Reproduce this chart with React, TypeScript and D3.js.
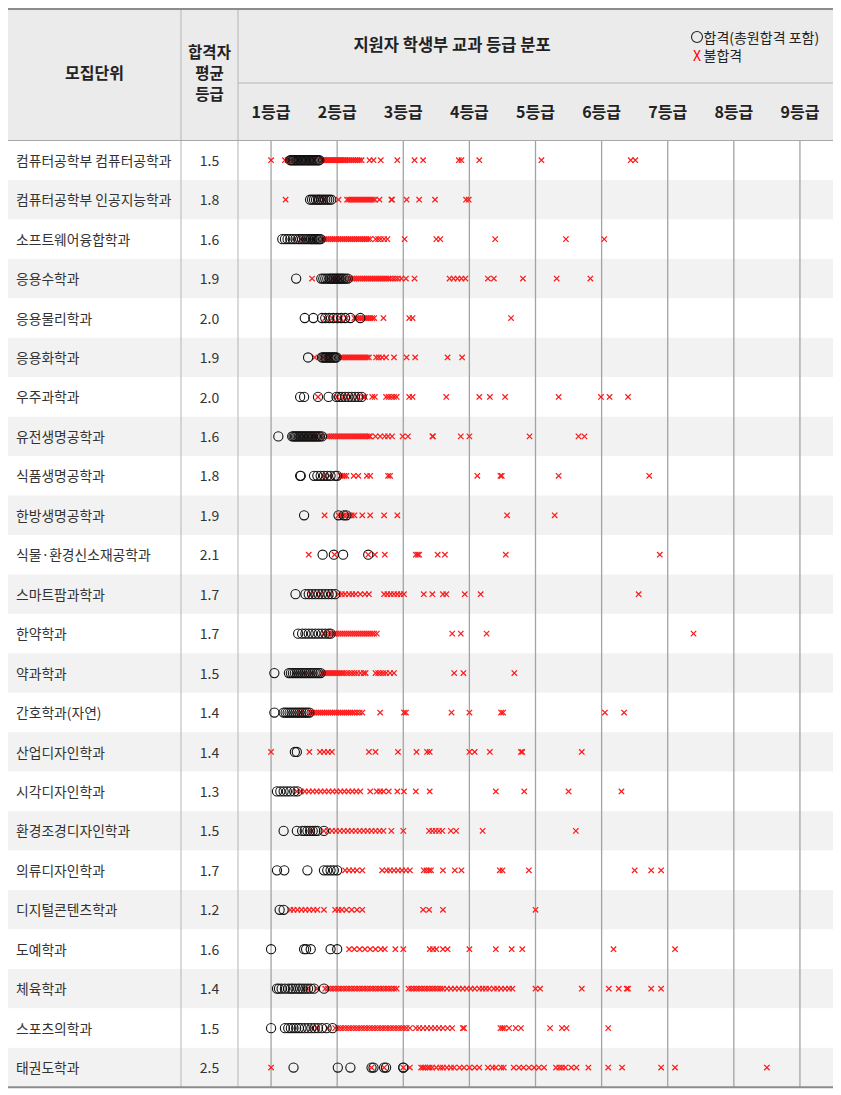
import React from 'react';
import * as d3 from 'd3';

// 모집단위
const units = [
  '컴퓨터공학부 컴퓨터공학과', '컴퓨터공학부 인공지능학과', '소프트웨어융합학과', '응용수학과',
  '응용물리학과', '응용화학과', '우주과학과', '유전생명공학과', '식품생명공학과', '한방생명공학과',
  '식물·환경신소재공학과', '스마트팜과학과', '한약학과', '약과학과', '간호학과(자연)', '산업디자인학과',
  '시각디자인학과', '환경조경디자인학과', '의류디자인학과', '디지털콘텐츠학과', '도예학과', '체육학과',
  '스포츠의학과', '태권도학과'
];

// 합격자 평균 등급
const avgGrades = [1.5, 1.8, 1.6, 1.9, 2.0, 1.9, 2.0, 1.6, 1.8, 1.9, 2.1, 1.7, 1.7, 1.5, 1.4, 1.4, 1.3, 1.5, 1.7, 1.2, 1.6, 1.4, 1.5, 2.5];

const gradeTicks = [1, 2, 3, 4, 5, 6, 7, 8, 9];
const gradeLabels = ['1등급', '2등급', '3등급', '4등급', '5등급', '6등급', '7등급', '8등급', '9등급'];

// 합격 (충원합격 포함)
const passedByUnit: number[][] = [
  [1.29, 1.31, 1.33, 1.35, 1.37, 1.39, 1.41, 1.43, 1.45, 1.47, 1.49, 1.51, 1.53, 1.55, 1.57, 1.59, 1.61, 1.63, 1.65, 1.67, 1.69, 1.71, 1.73],
  [1.59, 1.62, 1.65, 1.68, 1.71, 1.73, 1.76, 1.79, 1.82, 1.85, 1.88, 1.91],
  [1.17, 1.21, 1.25, 1.29, 1.33, 1.37, 1.41, 1.44, 1.47, 1.5, 1.53, 1.56, 1.59, 1.61, 1.63, 1.65, 1.67, 1.69, 1.71, 1.73, 1.75],
  [1.38, 1.76, 1.79, 1.82, 1.85, 1.88, 1.9, 1.92, 1.94, 1.96, 1.98, 2.0, 2.02, 2.04, 2.06, 2.08, 2.1, 2.13, 2.16],
  [1.51, 1.64, 1.77, 1.82, 1.88, 1.94, 2.0, 2.06, 2.12, 2.2, 2.35],
  [1.56, 1.77, 1.79, 1.81, 1.83, 1.85, 1.87, 1.89, 1.91, 1.93, 1.95, 1.97, 1.99],
  [1.44, 1.5, 1.71, 1.87, 1.99, 2.03, 2.07, 2.12, 2.17, 2.22, 2.27, 2.32, 2.37],
  [1.11, 1.32, 1.34, 1.36, 1.38, 1.4, 1.42, 1.44, 1.46, 1.48, 1.5, 1.52, 1.54, 1.56, 1.58, 1.6, 1.62, 1.64, 1.66, 1.68, 1.7, 1.72, 1.74, 1.77],
  [1.44, 1.45, 1.65, 1.7, 1.75, 1.8, 1.85, 1.9, 1.97, 2.0],
  [1.5, 2.02, 2.1, 2.14],
  [1.78, 1.95, 2.09, 2.47],
  [1.37, 1.52, 1.57, 1.62, 1.67, 1.72, 1.77, 1.82, 1.87, 1.92, 1.97],
  [1.41, 1.47, 1.52, 1.57, 1.62, 1.67, 1.72, 1.77, 1.82, 1.87, 1.9],
  [1.05, 1.27, 1.3, 1.33, 1.36, 1.39, 1.42, 1.45, 1.48, 1.51, 1.54, 1.57, 1.6, 1.63, 1.66, 1.69, 1.72, 1.75],
  [1.05, 1.19, 1.22, 1.25, 1.28, 1.31, 1.34, 1.37, 1.4, 1.43, 1.46, 1.49, 1.52, 1.55, 1.58],
  [1.36, 1.39],
  [1.09, 1.14, 1.19, 1.24, 1.29, 1.35, 1.4],
  [1.19, 1.39, 1.47, 1.51, 1.55, 1.59, 1.63, 1.67, 1.7, 1.8],
  [1.09, 1.2, 1.55, 1.8, 1.85, 1.9, 1.95, 2.0],
  [1.13, 1.19],
  [1.0, 1.5, 1.53, 1.6, 1.9, 2.0],
  [1.09, 1.12, 1.16, 1.21, 1.26, 1.3, 1.33, 1.37, 1.41, 1.44, 1.48, 1.52, 1.56, 1.6, 1.65, 1.8],
  [1.0, 1.21, 1.26, 1.3, 1.34, 1.38, 1.42, 1.46, 1.51, 1.56, 1.61, 1.66, 1.71, 1.77, 1.84, 1.93],
  [1.34, 2.01, 2.2, 2.52, 2.55, 2.71, 2.74, 3.0, 3.0]
];

// 불합격
const failedByUnit: number[][] = [
  [1.0, 1.21, 1.25, 1.3, 1.42, 1.55, 1.66, 1.77, 1.79, 1.81, 1.83, 1.85, 1.87, 1.89, 1.91, 1.93, 1.95, 1.97, 1.99, 2.01, 2.03, 2.05, 2.07, 2.09, 2.11, 2.13, 2.16, 2.19, 2.22, 2.25, 2.28, 2.31, 2.34, 2.37, 2.49, 2.55, 2.66, 2.91, 3.17, 3.3, 3.84, 3.88, 4.15, 5.09, 6.44, 6.51],
  [1.22, 1.72, 1.8, 2.02, 2.15, 2.18, 2.21, 2.24, 2.27, 2.3, 2.33, 2.36, 2.39, 2.42, 2.45, 2.48, 2.51, 2.54, 2.57, 2.64, 2.82, 2.83, 3.05, 3.24, 3.48, 3.95, 3.99],
  [1.45, 1.62, 1.78, 1.81, 1.84, 1.87, 1.9, 1.93, 1.96, 1.99, 2.02, 2.05, 2.08, 2.11, 2.14, 2.17, 2.2, 2.23, 2.26, 2.29, 2.32, 2.35, 2.38, 2.41, 2.44, 2.47, 2.5, 2.58, 2.62, 2.66, 2.71, 2.76, 3.02, 3.5, 3.56, 4.39, 5.46, 6.04],
  [1.62, 1.95, 2.05, 2.2, 2.23, 2.26, 2.29, 2.32, 2.35, 2.38, 2.41, 2.44, 2.47, 2.5, 2.53, 2.56, 2.59, 2.62, 2.65, 2.68, 2.71, 2.74, 2.77, 2.8, 2.84, 2.88, 2.92, 2.97, 3.04, 3.17, 3.7, 3.76, 3.82, 3.88, 3.94, 4.28, 4.37, 4.81, 5.32, 5.83],
  [1.82, 1.93, 2.05, 2.14, 2.26, 2.29, 2.32, 2.35, 2.38, 2.41, 2.44, 2.47, 2.5, 2.53, 2.56, 2.7, 3.09, 3.14, 4.63],
  [1.66, 1.8, 1.9, 2.06, 2.09, 2.12, 2.15, 2.18, 2.21, 2.24, 2.27, 2.3, 2.33, 2.36, 2.39, 2.42, 2.45, 2.48, 2.59, 2.63, 2.68, 2.74, 2.86, 3.05, 3.18, 3.67, 3.89],
  [1.71, 2.0, 2.1, 2.2, 2.3, 2.39, 2.42, 2.53, 2.57, 2.74, 2.78, 2.82, 2.86, 2.9, 3.09, 3.14, 3.65, 4.15, 4.31, 4.54, 5.35, 5.99, 6.12, 6.4],
  [1.5, 1.65, 1.76, 1.85, 1.88, 1.91, 1.94, 1.97, 2.0, 2.03, 2.06, 2.09, 2.12, 2.15, 2.18, 2.21, 2.24, 2.27, 2.3, 2.33, 2.36, 2.39, 2.42, 2.45, 2.48, 2.5, 2.58, 2.65, 2.72, 2.77, 2.83, 2.99, 3.07, 3.44, 3.45, 3.87, 4.0, 4.91, 5.65, 5.74],
  [1.8, 1.88, 2.05, 2.08, 2.11, 2.14, 2.25, 2.32, 2.45, 2.5, 2.77, 2.8, 4.12, 4.47, 4.49, 5.35, 6.72],
  [1.81, 2.02, 2.06, 2.1, 2.14, 2.18, 2.22, 2.26, 2.38, 2.5, 2.71, 2.91, 4.57, 5.29],
  [1.57, 1.96, 2.47, 2.57, 2.72, 3.19, 3.22, 3.24, 3.52, 3.63, 4.55, 6.88],
  [1.6, 1.75, 1.9, 2.02, 2.07, 2.12, 2.18, 2.23, 2.28, 2.35, 2.42, 2.48, 2.71, 2.76, 2.81, 2.86, 2.91, 2.96, 3.01, 3.31, 3.44, 3.6, 3.65, 3.93, 4.17, 6.56],
  [1.8, 1.87, 1.9, 1.93, 1.96, 1.99, 2.02, 2.05, 2.08, 2.11, 2.14, 2.17, 2.2, 2.23, 2.26, 2.29, 2.32, 2.35, 2.38, 2.41, 2.44, 2.47, 2.5, 2.53, 2.56, 2.6, 3.74, 3.87, 4.26, 7.39],
  [1.5, 1.62, 1.77, 1.8, 1.83, 1.86, 1.89, 1.92, 1.95, 1.98, 2.01, 2.04, 2.07, 2.1, 2.14, 2.18, 2.22, 2.26, 2.3, 2.35, 2.4, 2.43, 2.58, 2.62, 2.66, 2.7, 2.74, 2.8, 2.86, 3.77, 3.91, 4.68],
  [1.45, 1.6, 1.63, 1.66, 1.69, 1.72, 1.75, 1.78, 1.81, 1.84, 1.87, 1.9, 1.93, 1.96, 1.99, 2.02, 2.05, 2.08, 2.11, 2.14, 2.17, 2.2, 2.23, 2.26, 2.3, 2.34, 2.38, 2.65, 3.01, 3.04, 3.73, 4.0, 4.48, 4.51, 6.05, 6.34],
  [1.0, 1.58, 1.74, 1.8, 1.86, 1.92, 2.48, 2.58, 2.92, 3.2, 3.36, 3.4, 4.0, 4.08, 4.31, 4.78, 4.8, 5.7],
  [1.39, 1.45, 1.51, 1.57, 1.63, 1.69, 1.75, 1.81, 1.87, 1.93, 1.99, 2.05, 2.11, 2.17, 2.23, 2.29, 2.35, 2.5, 2.6, 2.65, 2.7, 2.78, 2.91, 3.01, 3.19, 3.4, 4.4, 4.83, 5.5, 6.3],
  [1.62, 1.8, 1.86, 1.92, 1.98, 2.04, 2.1, 2.16, 2.22, 2.28, 2.34, 2.4, 2.46, 2.52, 2.58, 2.64, 2.7, 2.82, 3.0, 3.39, 3.44, 3.49, 3.54, 3.59, 3.72, 3.8, 4.2, 5.61],
  [2.12, 2.18, 2.24, 2.3, 2.38, 2.68, 2.75, 2.8, 2.86, 2.92, 2.98, 3.04, 3.1, 3.31, 3.35, 3.39, 3.42, 3.6, 3.78, 3.88, 4.46, 4.5, 4.9, 6.5, 6.75, 6.9],
  [1.29, 1.34, 1.4, 1.46, 1.52, 1.58, 1.64, 1.7, 1.8, 1.97, 2.02, 2.07, 2.14, 2.22, 2.3, 2.38, 3.3, 3.39, 3.6, 5.0],
  [2.18, 2.26, 2.34, 2.42, 2.5, 2.58, 2.66, 2.72, 2.88, 3.0, 3.4, 3.45, 3.5, 3.6, 3.67, 4.0, 4.4, 4.64, 4.8, 6.18, 7.11],
  [1.55, 1.7, 1.82, 1.86, 1.9, 1.94, 1.98, 2.02, 2.06, 2.1, 2.14, 2.18, 2.22, 2.26, 2.3, 2.34, 2.38, 2.42, 2.46, 2.5, 2.54, 2.58, 2.62, 2.66, 2.7, 2.74, 2.78, 2.82, 2.86, 2.9, 3.08, 3.12, 3.16, 3.2, 3.24, 3.28, 3.32, 3.36, 3.4, 3.44, 3.48, 3.52, 3.56, 3.6, 3.66, 3.72, 3.78, 3.84, 3.9, 3.96, 4.02, 4.08, 4.15, 4.2, 4.25, 4.3, 4.37, 4.42, 4.48, 4.54, 4.6, 4.65, 5.0, 5.07, 5.7, 6.11, 6.26, 6.38, 6.4, 6.75, 6.9],
  [1.62, 1.7, 1.86, 1.97, 2.01, 2.05, 2.09, 2.13, 2.17, 2.21, 2.25, 2.29, 2.33, 2.37, 2.41, 2.45, 2.49, 2.53, 2.57, 2.61, 2.65, 2.69, 2.73, 2.77, 2.81, 2.85, 2.89, 2.93, 2.97, 3.01, 3.05, 3.1, 3.19, 3.24, 3.3, 3.36, 3.42, 3.48, 3.54, 3.6, 3.67, 3.74, 3.9, 3.92, 4.47, 4.5, 4.53, 4.6, 4.7, 4.78, 5.22, 5.4, 5.47, 6.1],
  [1.0, 2.52, 2.71, 3.0, 3.1, 3.27, 3.3, 3.33, 3.37, 3.4, 3.44, 3.5, 3.56, 3.6, 3.66, 3.72, 3.77, 3.85, 3.92, 4.0, 4.08, 4.15, 4.28, 4.35, 4.4, 4.48, 4.52, 4.67, 4.75, 4.82, 4.9, 4.98, 5.05, 5.13, 5.31, 5.36, 5.4, 5.45, 5.54, 5.62, 5.8, 6.1, 6.31, 6.9, 7.11, 8.5]
];

const W = 841;
const H = 1095;
const tableLeft = 8;
const tableRight = 833;
const col1Right = 181;
const col2Right = 238;
const headerTop = 9;
const headerMid = 83;
const headerBottom = 140.5;
const rowH = 39.45;
const FONT = '"Noto Sans CJK KR", "Noto Sans", sans-serif';

const xPath = 'M-2.7,-2.7L2.7,2.7M-2.7,2.7L2.7,-2.7';

export default function App() {
  const x = d3.scaleLinear().domain([0.5, 9.5]).range([col2Right, tableRight]);
  const y = d3.scaleBand<number>()
    .domain(d3.range(units.length))
    .range([headerBottom, headerBottom + rowH * units.length]);
  const tableBottom = headerBottom + rowH * units.length;
  const col1Mid = (tableLeft + col1Right) / 2;
  const col2Mid = (col1Right + col2Right) / 2;
  const dy = 1.8; // CJK glyph centring

  return (
    <svg width={W} height={H} style={{ position: 'absolute', left: 0, top: 0, fontFamily: FONT }}>
      <rect width={W} height={H} fill="#fff" />

      {/* header background */}
      <rect x={tableLeft} y={headerTop} width={tableRight - tableLeft} height={headerBottom - headerTop} fill="#ebebeb" />

      {/* row backgrounds */}
      {units.map((u, i) => (
        <rect key={'bg' + i} x={tableLeft} y={y(i)!} width={tableRight - tableLeft} height={y.bandwidth()}
          fill={i % 2 === 1 ? '#f1f2f1' : '#ffffff'} />
      ))}

      {/* grade grid lines */}
      {gradeTicks.map(g => (
        <line key={'g' + g} x1={x(g)} x2={x(g)} y1={headerBottom} y2={tableBottom} stroke="#a3a3a3" strokeWidth={1.3} />
      ))}

      {/* column separators */}
      <line x1={col1Right} x2={col1Right} y1={headerTop} y2={tableBottom} stroke="#b5b5b5" strokeWidth={1} />
      <line x1={col2Right} x2={col2Right} y1={headerTop} y2={tableBottom} stroke="#b5b5b5" strokeWidth={1} />
      <line x1={col2Right} x2={tableRight} y1={headerMid} y2={headerMid} stroke="#b5b5b5" strokeWidth={1} />
      <line x1={tableLeft} x2={tableRight} y1={headerBottom} y2={headerBottom} stroke="#a8a8a8" strokeWidth={1.2} />
      <line x1={tableLeft} x2={tableRight} y1={headerTop} y2={headerTop} stroke="#8c8c8c" strokeWidth={2} />
      <line x1={tableLeft} x2={tableRight} y1={tableBottom} y2={tableBottom} stroke="#8c8c8c" strokeWidth={2} />

      {/* header texts */}
      <text x={col1Mid} y={73 + dy} textAnchor="middle" dominantBaseline="middle" fontSize={16} fontWeight="bold" fill="#222">모집단위</text>
      {['합격자', '평균', '등급'].map((t, i) => (
        <text key={t} x={col2Mid} y={52 + i * 21 + dy} textAnchor="middle" dominantBaseline="middle" fontSize={15.5} fontWeight="bold" fill="#222">{t}</text>
      ))}
      <text x={452} y={45 + dy} textAnchor="middle" dominantBaseline="middle" fontSize={16.5} fontWeight="bold" fill="#222">지원자 학생부 교과 등급 분포</text>
      <circle cx={697} cy={37} r={5.5} fill="none" stroke="#222" strokeWidth={1.1} />
      <text x={703.5} y={37 + dy} dominantBaseline="middle" fontSize={14} fill="#222">합격(총원합격 포함)</text>
      <text x={693} y={55 + dy} dominantBaseline="middle" fontSize={14} fill="#ff0000">X</text>
      <text x={703.5} y={55 + dy} dominantBaseline="middle" fontSize={14} fill="#222">불합격</text>
      {gradeTicks.map((g, i) => (
        <text key={'t' + g} x={x(g)} y={112 + dy} textAnchor="middle" dominantBaseline="middle" fontSize={16} fontWeight="bold" fill="#222">{gradeLabels[i]}</text>
      ))}

      {/* row labels */}
      {units.map((u, i) => (
        <g key={'r' + i}>
          <text x={16} y={y(i)! + y.bandwidth() / 2 + dy} dominantBaseline="middle" fontSize={13.8} fill="#333">{u}</text>
          <text x={col2Mid} y={y(i)! + y.bandwidth() / 2 + dy} textAnchor="middle" dominantBaseline="middle" fontSize={14} fill="#333">{avgGrades[i].toFixed(1)}</text>
        </g>
      ))}

      {/* failed marks */}
      {failedByUnit.map((vals, i) => (
        <g key={'f' + i} transform={`translate(0,${y(i)! + y.bandwidth() / 2})`}>
          {vals.map((v, j) => (
            <path key={j} d={xPath} transform={`translate(${x(v)},0)`} stroke="#ff1a1a" strokeWidth={1.25} fill="none" />
          ))}
        </g>
      ))}

      {/* passed marks */}
      {passedByUnit.map((vals, i) => (
        <g key={'p' + i} transform={`translate(0,${y(i)! + y.bandwidth() / 2})`}>
          {vals.map((v, j) => (
            <circle key={j} cx={x(v)} cy={0} r={4.6} fill="none" stroke="#111" strokeWidth={1.1} />
          ))}
        </g>
      ))}
    </svg>
  );
}
